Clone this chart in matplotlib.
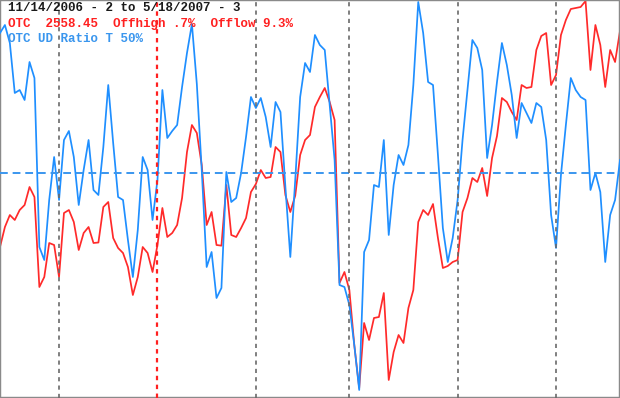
import matplotlib
matplotlib.use("Agg")
import matplotlib.pyplot as plt
import pandas as pd
import numpy as np

# Trading days 11/14/2006 .. 5/18/2007
holidays = ["2006-11-23", "2006-12-25", "2007-01-01", "2007-01-02",
            "2007-01-15", "2007-02-19", "2007-04-06"]
dates = pd.bdate_range("2006-11-14", "2007-05-18", freq="C", holidays=holidays)

# OTC (Nasdaq composite) close
otc_close = [
    2428.8, 2440.8, 2448.0, 2445.0, 2451.0, 2454.0, 2464.8, 2458.8, 2404.8, 2410.8,
    2431.2, 2430.0, 2410.8, 2449.2, 2451.0, 2443.8, 2427.0, 2437.2, 2440.8, 2431.2,
    2431.5, 2452.8, 2455.8, 2434.2, 2428.2, 2425.2, 2416.8, 2400.0, 2410.8, 2428.8,
    2425.2, 2413.8, 2430.0, 2452.2, 2434.8, 2437.2, 2442.0, 2458.2, 2485.8, 2502.0,
    2497.2, 2478.0, 2442.0, 2449.8, 2430.0, 2429.6, 2466.0, 2436.0, 2434.8, 2440.2,
    2446.2, 2461.8, 2466.6, 2475.0, 2470.2, 2470.8, 2488.8, 2485.8, 2460.0, 2449.8,
    2459.6, 2484.0, 2493.0, 2496.0, 2512.8, 2518.8, 2524.2, 2515.8, 2505.0, 2407.2,
    2413.8, 2403.0, 2370.0, 2344.2, 2383.2, 2373.0, 2386.2, 2386.8, 2401.2, 2349.0,
    2365.8, 2376.0, 2371.2, 2392.2, 2403.0, 2443.8, 2451.0, 2448.0, 2454.6, 2434.2,
    2416.2, 2417.4, 2419.8, 2421.0, 2449.8, 2458.2, 2470.2, 2467.8, 2476.2, 2459.4,
    2482.2, 2495.4, 2518.2, 2515.8, 2509.8, 2505.0, 2526.0, 2524.2, 2524.8, 2547.0,
    2555.4, 2557.2, 2526.0, 2532.0, 2556.0, 2565.0, 2571.6, 2572.2, 2572.8, 2576.4,
    2535.0, 2562.0, 2550.0, 2524.8, 2547.0, 2539.8, 2558.45,
]

# OTC up/down volume ratio (%)
ud_ratio = [
    78.0, 79.6, 76.0, 66.0, 66.6, 64.6, 72.2, 69.0, 35.2, 32.6,
    44.6, 53.2, 44.6, 56.6, 58.4, 53.2, 43.6, 50.6, 56.6, 46.6,
    45.6, 55.2, 67.6, 56.0, 45.2, 44.6, 36.6, 29.2, 38.6, 53.2,
    50.6, 40.6, 48.6, 66.6, 57.0, 58.4, 59.6, 67.2, 74.0, 79.8,
    67.8, 50.6, 31.2, 34.2, 25.0, 27.0, 50.2, 44.2, 45.0, 50.0,
    57.2, 65.2, 63.0, 65.0, 61.2, 55.2, 64.2, 62.2, 47.2, 33.2,
    48.6, 65.2, 72.0, 70.2, 77.6, 75.6, 74.6, 63.6, 52.6, 27.6,
    27.2, 23.6, 15.6, 6.6, 34.2, 36.6, 47.6, 47.2, 56.6, 37.6,
    47.6, 53.6, 51.6, 55.6, 67.6, 84.2, 78.0, 68.2, 67.6, 53.6,
    39.0, 32.2, 37.0, 44.6, 56.6, 66.6, 76.6, 75.0, 70.6, 53.0,
    59.6, 68.2, 76.0, 71.6, 65.6, 57.0, 64.0, 62.0, 60.0, 64.0,
    63.2, 56.6, 41.6, 35.0, 49.6, 59.6, 69.0, 66.6, 65.2, 64.6,
    46.6, 50.0, 46.2, 32.2, 41.6, 44.6, 52.6,
]

title_line = "11/14/2006 - 2 to 5/18/2007 - 3"
price_line = "OTC  2558.45  Offhigh .7%  Offlow 9.3%"
ratio_line = "OTC UD Ratio T 50%"
threshold = 50

W, H = 620, 398
fig = plt.figure(figsize=(W / 100, H / 100), dpi=100)
ax = fig.add_axes([0, 0, 1, 1])
ax2 = ax.twinx()

x = np.arange(len(dates))
RED = "#ff2a2a"
BLUE = "#1f8fff"

ax2.plot(x, otc_close, color=RED, lw=1.25, zorder=2)
ax.plot(x, ud_ratio, color=BLUE, lw=1.25, zorder=3)
ax.set_zorder(ax2.get_zorder() + 1)
ax.patch.set_visible(False)

ax.axhline(threshold, color="#3a96ee", lw=1.4, ls=(0, (4, 2.5)), zorder=4)

# month boundaries
months = pd.Series(dates.month)
starts = np.where(months.values[1:] != months.values[:-1])[0] + 1
for i in starts:
    if dates[i].year != dates[i - 1].year:
        ax.axvline(i, color="#ff2020", lw=1.6, ls=(0, (2, 2)), zorder=5)
    else:
        ax.axvline(i, color="#6a6a6a", lw=1.2, ls=(0, (2.5, 2.5)), zorder=5)

ax.set_xlim(0, len(dates) - 1)
ax.set_ylim(5.0, 84.6)
ax2.set_ylim(2338.2, 2577.0)

for a in (ax, ax2):
    a.set_xticks([])
    a.set_yticks([])
    for s in a.spines.values():
        s.set_color("#8a8a8a")
        s.set_linewidth(1.6)

mono = ["Liberation Mono", "DejaVu Sans Mono"]
fig.text(8 / W, 1 - 11 / H, title_line, color="#1a1a1a", family=mono,
         fontsize=9, fontweight="bold", va="baseline", ha="left", zorder=10)
fig.text(8 / W, 1 - 27 / H, price_line, color="#ff2020", family=mono,
         fontsize=9, fontweight="bold", va="baseline", ha="left", zorder=10)
fig.text(8 / W, 1 - 42.5 / H, ratio_line, color="#3a96ee", family=mono,
         fontsize=9, fontweight="bold", va="baseline", ha="left", zorder=10)

fig.savefig("out.png", dpi=100, facecolor="white")
